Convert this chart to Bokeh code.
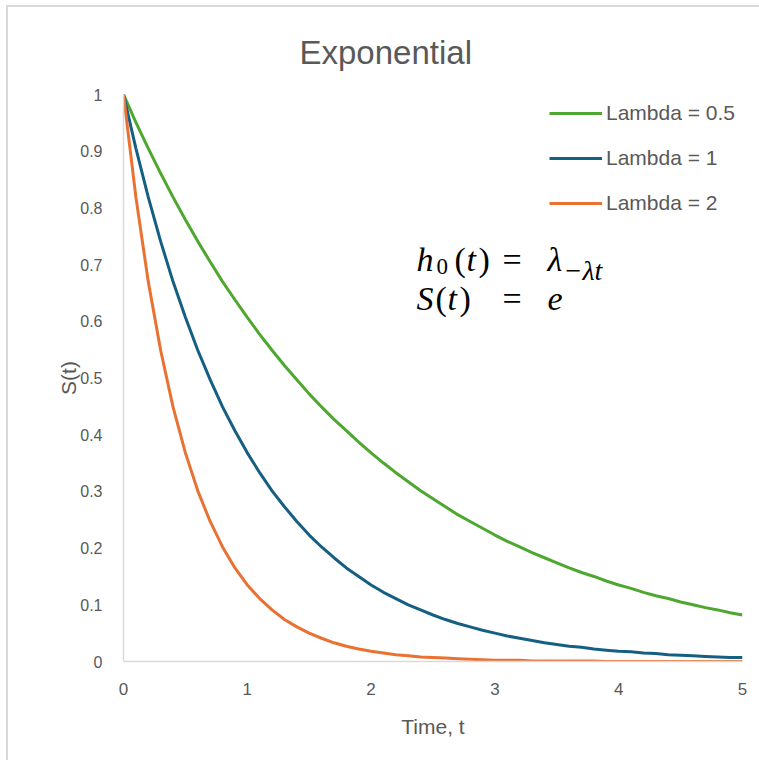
from bokeh.plotting import figure
from bokeh.models import Label, Legend, LegendItem, FixedTicker, ColumnDataSource, InlineStyleSheet
from bokeh.embed import file_html
from bokeh.resources import INLINE

t = [0.0, 0.1, 0.2, 0.3, 0.4, 0.5, 0.6, 0.7, 0.8, 0.9,
     1.0, 1.1, 1.2, 1.3, 1.4, 1.5, 1.6, 1.7, 1.8, 1.9,
     2.0, 2.1, 2.2, 2.3, 2.4, 2.5, 2.6, 2.7, 2.8, 2.9,
     3.0, 3.1, 3.2, 3.3, 3.4, 3.5, 3.6, 3.7, 3.8, 3.9,
     4.0, 4.1, 4.2, 4.3, 4.4, 4.5, 4.6, 4.7, 4.8, 4.9, 5.0]

s_lambda_05 = [1.000, 0.951, 0.905, 0.861, 0.819, 0.779, 0.741, 0.705, 0.670, 0.638,
               0.607, 0.577, 0.549, 0.522, 0.497, 0.472, 0.449, 0.427, 0.407, 0.387,
               0.368, 0.350, 0.333, 0.317, 0.301, 0.287, 0.273, 0.259, 0.247, 0.235,
               0.223, 0.212, 0.202, 0.192, 0.183, 0.174, 0.165, 0.157, 0.150, 0.142,
               0.135, 0.129, 0.122, 0.116, 0.111, 0.105, 0.100, 0.095, 0.091, 0.086, 0.082]

s_lambda_1 = [1.000, 0.905, 0.819, 0.741, 0.670, 0.607, 0.549, 0.497, 0.449, 0.407,
              0.368, 0.333, 0.301, 0.273, 0.247, 0.223, 0.202, 0.183, 0.165, 0.150,
              0.135, 0.122, 0.111, 0.100, 0.091, 0.082, 0.074, 0.067, 0.061, 0.055,
              0.050, 0.045, 0.041, 0.037, 0.033, 0.030, 0.027, 0.025, 0.022, 0.020,
              0.018, 0.017, 0.015, 0.014, 0.012, 0.011, 0.010, 0.009, 0.008, 0.007, 0.007]

s_lambda_2 = [1.000, 0.819, 0.670, 0.549, 0.449, 0.368, 0.301, 0.247, 0.202, 0.165,
              0.135, 0.111, 0.091, 0.074, 0.061, 0.050, 0.041, 0.033, 0.027, 0.022,
              0.018, 0.015, 0.012, 0.010, 0.008, 0.007, 0.006, 0.005, 0.004, 0.003,
              0.002, 0.002, 0.002, 0.001, 0.001, 0.001, 0.001, 0.001, 0.001, 0.000,
              0.000, 0.000, 0.000, 0.000, 0.000, 0.000, 0.000, 0.000, 0.000, 0.000, 0.000]

series_names = ["Lambda = 0.5", "Lambda = 1", "Lambda = 2"]
series_values = [s_lambda_05, s_lambda_1, s_lambda_2]
series_colors = ["#4EA72E", "#156082", "#E97132"]

x_ticks = [0, 1, 2, 3, 4, 5]
y_ticks = [0, 0.1, 0.2, 0.3, 0.4, 0.5, 0.6, 0.7, 0.8, 0.9, 1]

FONT = "Liberation Sans"
GREY = "#595959"

sheet = InlineStyleSheet(css=":host { border-left: 2px solid #d9d9d9; border-top: 2px solid #d9d9d9; }")
p = figure(width=753, height=755, output_backend="svg", toolbar_location=None,
           x_range=(0, 5), y_range=(0, 1), stylesheets=[sheet])
p.margin = (5, 0, 0, 6)
p.min_border_left = 115
p.min_border_right = 19
p.min_border_top = 86
p.min_border_bottom = 101
p.outline_line_color = None
p.background_fill_color = "white"
p.border_fill_color = "white"
p.xgrid.visible = False
p.ygrid.visible = False

p.title.text = "Exponential"
p.title.align = "left"
p.title.offset = 176
p.title.standoff = 48
p.title.text_font = FONT
p.title.text_font_size = "33px"
p.title.text_font_style = "normal"
p.title.text_color = GREY

for ax in (p.xaxis[0], p.yaxis[0]):
    ax.axis_line_color = "#d9d9d9"
    ax.axis_line_width = 1.5
    ax.major_tick_line_color = None
    ax.minor_tick_line_color = None
    ax.major_label_text_color = GREY
    ax.major_label_text_font = FONT
    ax.major_label_text_font_size = "17px"
    ax.axis_label_text_color = GREY
    ax.axis_label_text_font = FONT
    ax.axis_label_text_font_size = "21px"
    ax.axis_label_text_font_style = "normal"

p.yaxis.major_label_text_font_size = "16px"
p.xaxis.ticker = FixedTicker(ticks=x_ticks)
p.yaxis.ticker = FixedTicker(ticks=y_ticks)
p.yaxis.major_label_overrides = {v: ("%g" % v) for v in y_ticks}
p.xaxis.major_label_standoff = 15
p.yaxis.major_label_standoff = 15
p.xaxis.axis_label = "Time, t"
p.yaxis.axis_label = "S(t)"
p.xaxis.axis_label_standoff = 17
p.yaxis.axis_label_standoff = -3

items = []
for name, vals, col in zip(series_names, series_values, series_colors):
    src = ColumnDataSource(dict(t=t, s=vals))
    r = p.line("t", "s", source=src, line_color=col, line_width=3)
    items.append(LegendItem(label=name, renderers=[r]))

legend = Legend(items=items, location=(426, 446))
legend.border_line_color = None
legend.background_fill_alpha = 0
legend.padding = 0
legend.margin = 0
legend.spacing = 21
legend.glyph_width = 53
legend.glyph_height = 24
legend.label_height = 24
legend.label_standoff = 4
legend.label_text_font = FONT
legend.label_text_font_size = "21px"
legend.label_text_color = GREY
p.add_layout(legend, "center")

# Equation pieces (pixel positions converted to frame screen offsets)
fx, fy = 124, 659 + 16
SERIF = "Liberation Serif"

def eq(text, X, Y, size="34px", style="italic"):
    p.add_layout(Label(x=X - fx, y=fy - Y, x_units="screen", y_units="screen",
                       text=text, text_baseline="alphabetic", text_font=SERIF,
                       text_font_size=size, text_font_style=style, text_color="black"))

eq("h", 417, 273)
eq("0", 437, 280, size="23px", style="normal")
eq("(", 455, 273, style="normal")
eq("t", 467, 273)
eq(")", 479, 273, style="normal")
eq("=", 503, 273, style="normal")
eq("λ", 548, 273)
eq("S", 417, 312)
eq("(", 436, 312, style="normal")
eq("t", 448, 312)
eq(")", 460, 312, style="normal")
eq("=", 503, 312, style="normal")
eq("e", 548, 312)
eq("−λt", 564, 284, size="28px")

open("out.html", "w").write(file_html(p, INLINE))
